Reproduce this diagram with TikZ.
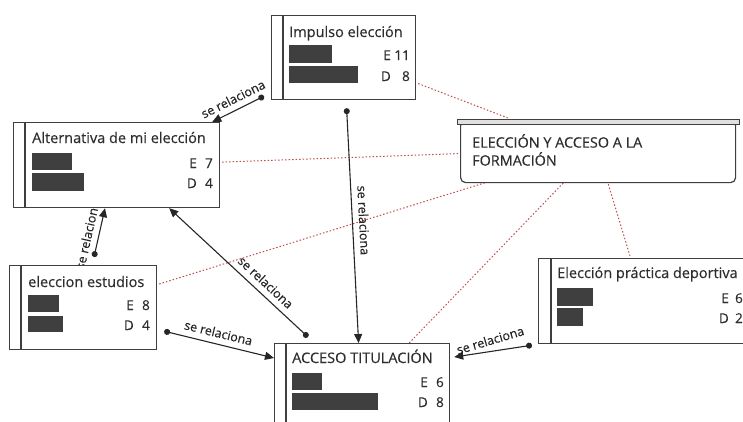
\documentclass[tikz,border=0pt]{standalone}
\usepackage{fontspec}
\setmainfont{Open Sans}[FakeBold=0.35]
\usetikzlibrary{arrows.meta}
\pgfdeclarelayer{back}
\pgfsetlayers{back,main}
\definecolor{boxgray}{HTML}{3F3F3F}
\definecolor{txtgray}{HTML}{2E2E2E}
\definecolor{linkred}{HTML}{C0504D}
\tikzset{
	box/.style={draw=boxgray,line width=1.2pt,fill=white,anchor=north west,inner sep=0pt},
	stripe/.style={draw=boxgray,line width=1.2pt},
	ttl/.style={anchor=base west,inner sep=0pt,text=txtgray,font=\fontsize{14.5}{16}\selectfont},
	val/.style={anchor=base east,inner sep=0pt,text=txtgray,font=\fontsize{13.5}{15}\selectfont},
	bar/.style={fill=boxgray},
	rel/.style={line width=1.1pt,draw=black!85,{Circle[length=6pt]}-{Triangle[length=9pt,width=8pt]}},
	lbl/.style={sloped,above=3pt,inner sep=3pt,text=black!85,font=\fontsize{12.5}{14}\selectfont},
	link/.style={draw=linkred,line width=1pt,dash pattern=on 1.5pt off 2pt}
}
\begin{document}
\begin{tikzpicture}[x=1pt,y=-1pt]
	\useasboundingbox (0,0) rectangle (743,421);
	\clip (0,0) rectangle (743,421);
	\node[box,minimum width=144pt,minimum height=84pt] (imp) at (271,15) {};
	\draw[stripe] ([xshift=12pt]imp.north west) -- ([xshift=12pt]imp.south west);
	\node[ttl] (impT) at (289,37) {Impulso elección};
	\fill[bar] (289,45) rectangle (332,63);
	\fill[bar] (289,66) rectangle (358,83);
	\node[val] (impE) at (410,60) {E\makebox[19pt][r]{11}};
	\node[val] (impD) at (410,81) {D\makebox[19pt][r]{8}};
	\node[box,minimum width=206pt,minimum height=85pt] (alt) at (13,122) {};
	\draw[stripe] ([xshift=12pt]alt.north west) -- ([xshift=12pt]alt.south west);
	\node[ttl] (altT) at (32,143) {Alternativa de mi elección};
	\fill[bar] (32,153) rectangle (72,170);
	\fill[bar] (32,173) rectangle (84,191);
	\node[val] (altE) at (213,168) {E\makebox[16pt][r]{7}};
	\node[val] (altD) at (213,188) {D\makebox[16pt][r]{4}};
	\node[box,minimum width=147pt,minimum height=84pt] (est) at (9,265) {};
	\draw[stripe] ([xshift=12pt]est.north west) -- ([xshift=12pt]est.south west);
	\node[ttl] (estT) at (28,287) {eleccion estudios};
	\fill[bar] (28,295) rectangle (59,312);
	\fill[bar] (28,316) rectangle (63,332);
	\node[val] (estE) at (150,310) {E\makebox[16pt][r]{8}};
	\node[val] (estD) at (150,330) {D\makebox[16pt][r]{4}};
	\node[box,minimum width=175pt,minimum height=100pt] (acc) at (274,343) {};
	\draw[stripe] ([xshift=12pt]acc.north west) -- ([xshift=12pt]acc.south west);
	\node[ttl] (accT) at (292,363) {ACCESO TITULACIÓN};
	\fill[bar] (292,373) rectangle (322,390);
	\fill[bar] (292,393) rectangle (378,410);
	\node[val] (accE) at (444,387) {E\makebox[16pt][r]{6}};
	\node[val] (accD) at (444,407) {D\makebox[16pt][r]{8}};
	\node[box,minimum width=220pt,minimum height=85pt] (pra) at (538,258) {};
	\draw[stripe] ([xshift=13pt]pra.north west) -- ([xshift=13pt]pra.south west);
	\node[ttl] (praT) at (557,278) {Elección práctica deportiva};
	\fill[bar] (557,288) rectangle (593,306);
	\fill[bar] (557,308) rectangle (583,326);
	\node[val] (praE) at (743,303) {E\makebox[14pt][r]{6}};
	\node[val] (praD) at (743,323) {D\makebox[14pt][r]{2}};
	\node[box,rounded corners=5pt,minimum width=275pt,minimum height=62pt] (elec) at (460,120) {};
	\draw[draw=boxgray,line width=1pt,fill=black!12] (457,119) rectangle (739,124);
	\node[anchor=north west,inner sep=0pt,align=left,text=txtgray,font=\fontsize{14.4}{18}\selectfont] (elecT) at (472,134) {ELECCIÓN Y ACCESO A LA\\FORMACIÓN};
	\begin{pgfonlayer}{back}
	\draw[link] ([shift={(2,26)}]imp.east) -- ([shift={(48,-2)}]elec.north west);
	\draw[link] ([shift={(2,-3)}]alt.east) -- ([shift={(-2,2)}]elec.west);
	\draw[link] ([shift={(2,19)}]est.north east) -- ([shift={(30,-2)}]elec.south west);
	\draw[link] ([shift={(-41,0)}]acc.north east) -- ([shift={(105,-2)}]elec.south west);
	\draw[link] ([shift={(92,-2)}]pra.north west) -- ([shift={(148,0)}]elec.south west);
	\draw[rel] ([shift={(-7,-4)}]imp.south west) -- node[lbl] (r1) {se relaciona} ([xshift=-8pt]alt.north east);
	\draw[rel] ([shift={(3,8)}]imp.south) -- node[lbl,pos=0.48] (r2) {se relaciona} ([xshift=-3.5pt]acc.north);
	\draw[rel] ([shift={(34,-6)}]acc.north west) -- node[lbl,pos=0.36] (r3) {se relaciona} ([xshift=-51pt]alt.south east);
	\draw[rel] ([shift={(85,-8)}]est.north west) -- node[lbl,pos=0.4] (r4) {se relaciona} ([xshift=92pt]alt.south west);
	\draw[rel] ([shift={(7,-19)}]est.south east) -- node[lbl,pos=0.47] (r5) {se relaciona} ([yshift=-15pt]acc.north west);
	\draw[rel] ([shift={(-6,1)}]pra.south west) -- node[lbl,rotate=8] (r6) {se relaciona} ([shift={(4,14)}]acc.north east);
	\end{pgfonlayer}
\end{tikzpicture}
\end{document}
